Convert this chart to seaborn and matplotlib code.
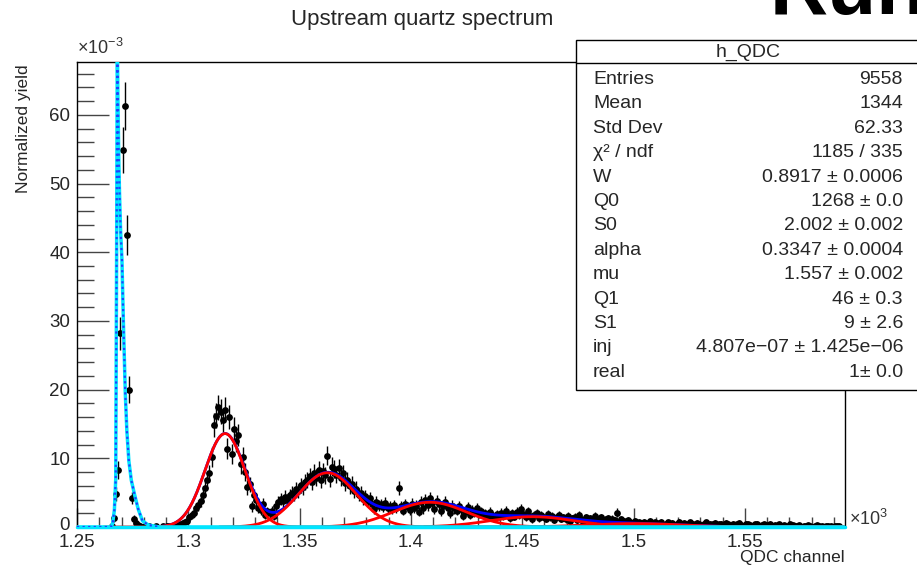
import numpy as np
import pandas as pd
import matplotlib
matplotlib.use("Agg")
import matplotlib.pyplot as plt
import matplotlib.transforms as mtransforms
import seaborn as sns
from matplotlib.patches import Rectangle
from matplotlib.ticker import MultipleLocator, FuncFormatter

# ---- histogram contents (normalized yield, x1e-3), one value per QDC channel ----
ped_start = 1262
ped_yield = [0, 0, 0, 0.2, 1.3, 4.8, 8.3, 28.2, 54.9, 61.3, 42.5, 20.0, 4.2, 1.2,
             0.6, 0.3, 0.2, 0, 0.1, 0, 0.1, 0, 0, 0.1, 0, 0, 0.1, 0]

pe1_start = 1290
pe1_yield = [0.1, 0.1, 0.2, 0.2, 0.3, 0.4, 0.5, 0.6, 0.8, 0.9, 1.4, 1.8, 2.1, 2.8,
             3.2, 3.8, 4.6, 5.7, 6.9, 7.8, 10.2, 14.9, 16.2, 17.4, 16.8, 15.6, 17.1,
             11.4, 16.0, 10.6, 14.3, 12.5, 13.4, 9.1, 10.2, 8.0, 5.8, 6.2, 3.0, 4.6,
             3.9, 2.8, 2.5, 3.4, 1.8, 2.3]

pe2_start = 1336
pe2_yield = [2.0, 2.4, 1.6, 3.0, 3.6, 4.1, 3.8, 4.4, 3.9, 4.6, 5.0, 4.7, 5.5, 5.2,
             6.1, 5.8, 6.6, 6.9, 7.4, 6.5, 7.9, 7.2, 8.3, 6.8, 8.1, 7.5, 10.4, 7.0,
             8.8, 8.4, 7.6, 8.6, 7.1, 7.8, 6.4, 6.9, 5.9, 6.3, 5.2, 5.6, 4.7, 5.0,
             4.1, 4.5, 3.8, 4.2, 3.4, 2.6, 3.7, 3.1, 3.3, 2.9, 3.5, 2.7, 3.0, 2.6,
             3.2, 2.8]

pe3_start = 1394
pe3_yield = [5.7, 3.0, 2.4, 3.3, 2.9, 2.5, 3.4, 2.8, 3.1, 2.2, 3.6, 2.7, 3.9, 3.2,
             4.2, 3.5, 2.6, 3.8, 3.3, 2.3, 3.0, 3.6, 2.8, 2.0, 3.1, 2.7, 2.4, 3.0,
             2.6, 1.6, 2.2, 2.9, 1.8, 2.5, 2.1, 2.7, 1.9, 2.3, 1.7, 2.0, 1.5, 2.2,
             1.8, 1.3, 1.9, 1.6]

tail_start = 1440
tail_yield = [2.1, 1.6, 2.4, 1.8, 1.3, 2.0, 1.5, 2.2, 1.7, 2.6, 1.9, 1.4, 2.3, 1.6,
              1.1, 1.8, 2.0, 1.3, 1.7, 1.5, 1.2, 1.9, 1.4, 1.6, 1.0, 1.5, 1.8, 1.2,
              1.4, 1.1, 1.6, 0.9, 1.3, 1.5, 1.0, 1.7, 1.2, 0.8, 1.4, 1.1, 1.3, 0.9,
              1.6, 1.2, 1.0, 1.4, 0.8, 1.1, 1.3, 0.9, 1.2, 1.0, 2.1, 0.8, 1.1, 0.9,
              0.7, 1.0, 0.8, 0.6,
              0.9, 0.5, 0.7, 0.4, 0.8, 0.6, 0.3, 0.9, 0.5, 0.7, 0.4, 0.6, 0.8, 0.3,
              0.5, 0.7, 0.4, 0.6, 0.2, 0.5, 0.8, 0.4, 0.6, 0.3, 0.5, 0.7, 0.4, 0.3,
              0.6, 0.5, 0.2, 0.4, 0.7, 0.3, 0.5, 0.4, 0.6, 0.2, 0.4, 0.5, 0.3, 0.6,
              0.4, 0.2, 0.5, 0.3, 0.4, 0.6, 0.3, 0.2, 0.5, 0.4, 0.3, 0.1, 0.4, 0.5,
              0.2, 0.3, 0.4, 0.1, 0.3, 0.5, 0.2, 0.3, 0.1, 0.4, 0.2, 0.3, 0, 0.2,
              0.4, 0.3, 0.1, 0.2, 0.3, 0, 0.2, 0.1, 0.3, 0.2, 0, 0.1, 0.3, 0.2,
              0.1, 0, 0.2, 0.1, 0.2, 0, 0.1, 0.2, 0.1, 0]

eff_counts = 5000  # sets the size of the statistical error bars

# ---- fit curves ----
# pedestal (cyan) as knots
ped_fit_x = [1250, 1265.2, 1266.0, 1266.8, 1267.4, 1267.8, 1268.1, 1268.4, 1268.8,
             1269.1, 1269.6, 1270.2, 1270.9, 1271.7, 1272.4, 1273.3, 1274.4,
             1275.8, 1277.5, 1279.4, 1282, 1287, 1595]
ped_fit_y = [0, 0, 0.5, 2.5, 7, 40, 72, 62, 53, 48.6, 43, 38.8, 29, 19.4, 14,
             9.6, 6.8, 4.8, 2.6, 0.9, 0.3, 0, 0]

# photoelectron gaussians (red): centre, height, width, start of drawn range
pe_centre = [1316.5, 1362.5, 1408.5, 1454.5, 1500.5]
pe_height = [13.6, 7.9, 3.6, 1.5, 0.5]
pe_width = [9.0, 13.0, 16.5, 19.0, 21.0]
pe_from = [1262, 1314, 1360, 1406, 1452]

stat_names = ["Entries", "Mean", "Std Dev", "\u03c7\u00b2 / ndf", "W", "Q0", "S0",
              "alpha", "mu", "Q1", "S1", "inj", "real"]
stat_values = ["9558", "1344", "62.33", "1185 / 335", "0.8917 \u00b1 0.0006",
               "1268 \u00b1 0.0", "2.002 \u00b1 0.002", "0.3347 \u00b1 0.0004",
               "1.557 \u00b1 0.002", "46 \u00b1 0.3", "9 \u00b1 2.6",
               "4.807e\u221207 \u00b1 1.425e\u221206", "1\u00b1 0.0"]

# ---- build table ----
parts = []
for start, vals in [(ped_start, ped_yield), (pe1_start, pe1_yield), (pe2_start, pe2_yield),
                    (pe3_start, pe3_yield), (tail_start, tail_yield)]:
    parts.append(pd.DataFrame({"channel": start + 0.5 + np.arange(len(vals)),
                               "yield": vals}))
hist = pd.concat(parts, ignore_index=True)
hist = hist[hist["yield"] > 0].copy()
hist["err"] = np.sqrt(hist["yield"] * 1e-3 / eff_counts) * 1e3

sns.set_theme(style="white")
plt.rcParams["font.family"] = ["Liberation Sans", "DejaVu Sans"]
plt.rcParams["mathtext.fontset"] = "custom"
plt.rcParams["mathtext.rm"] = "Liberation Sans"
plt.rcParams["mathtext.it"] = "Liberation Sans:italic"

W, H = 917, 567
fig = plt.figure(figsize=(W / 100, H / 100), dpi=100)
ax = fig.add_axes([77 / W, 1 - 527 / H, (845 - 77) / W, (527 - 62) / H])

# data points
ax.errorbar(hist["channel"], hist["yield"], yerr=hist["err"], fmt="none",
            ecolor="black", elinewidth=1, capsize=0, zorder=2)
sns.scatterplot(data=hist, x="channel", y="yield", color="black", s=24,
                edgecolor="black", linewidth=0, ax=ax, zorder=3, legend=False)

# total fit (blue) under the components
grid = np.linspace(1285, 1595, 1200)
total = np.zeros_like(grid)
for c, h, s in zip(pe_centre, pe_height, pe_width):
    total += h * np.exp(-0.5 * ((grid - c) / s) ** 2)
sns.lineplot(x=grid, y=total, color="#0000ff", lw=2, ax=ax, zorder=4)

# components (red)
for c, h, s, lo in zip(pe_centre, pe_height, pe_width, pe_from):
    g = np.linspace(lo, 1595, 900)
    sns.lineplot(x=g, y=h * np.exp(-0.5 * ((g - c) / s) ** 2), color="red", lw=2,
                 ax=ax, zorder=5)

# pedestal (cyan) with dotted total on top
ax.plot(ped_fit_x, ped_fit_y, color="#00e5ff", lw=2.5, zorder=6, clip_on=True)
ax.plot([1250, 1595], [0, 0], color="#00e5ff", lw=2.5, zorder=6, clip_on=False)
ax.plot(ped_fit_x[:22], ped_fit_y[:22], color="#2040ff", lw=1.6, ls=(0, (1, 1.5)),
        zorder=7)

ax.set_xlim(1250, 1595)
ax.set_ylim(0, 67.7)

# ROOT style axes
for side in ["left", "bottom", "right", "top"]:
    ax.spines[side].set_color("black")
    ax.spines[side].set_linewidth(1)
ax.xaxis.set_major_locator(MultipleLocator(50))
ax.xaxis.set_minor_locator(MultipleLocator(10))
ax.yaxis.set_major_locator(MultipleLocator(10))
ax.yaxis.set_minor_locator(MultipleLocator(2))
ax.xaxis.set_major_formatter(FuncFormatter(lambda v, p: f"{v / 1000:g}"))
ax.tick_params(axis="x", which="major", direction="in", length=14, width=1,
               color="#444444", labelsize=13.5, pad=5, top=False, bottom=True)
ax.tick_params(axis="x", which="minor", direction="in", length=7, width=1,
               color="#444444", top=False, bottom=True)
ax.tick_params(axis="y", which="major", direction="in", length=23, width=1,
               color="#444444", labelsize=13.5, pad=5, right=False, left=True)
ax.tick_params(axis="y", which="minor", direction="in", length=12, width=1,
               color="#444444", right=False, left=True)

# lift the "0" label a little, as in the original pad
fig.canvas.draw()
for lab in ax.get_yticklabels():
    if lab.get_text() == "0":
        lab.set_transform(lab.get_transform() +
                          mtransforms.ScaledTranslation(0, 4 / 100, fig.dpi_scale_trans))

ax.set_xlabel("QDC channel", fontsize=12.5, loc="right")
ax.xaxis.set_label_coords(1.0, -0.05)
ax.set_ylabel("Normalized yield", fontsize=12.5, loc="top")
ax.yaxis.set_label_coords(-0.06, 0.995)

fig.text(77 / W, 1 - 54 / H, r"$\times$10$^{-3}$", fontsize=13, va="baseline",
         ha="left", color="#333333")
fig.text(849 / W, 1 - 519 / H, r"$\times$10$^{3}$", fontsize=13, va="center",
         ha="left", color="#333333")

fig.text(422 / W, 1 - 20 / H, "Upstream quartz spectrum", fontsize=16,
         ha="center", va="center")
# large label above the pad, mostly outside the picture
fig.text(770 / W, 1 - 14 / H, "Run", fontsize=58, fontweight="bold",
         ha="left", va="baseline", color="black")

# stats box
bx0, bx1, by0, by1 = 576, 930, 40, 390
fig.patches.append(Rectangle((bx0 / W, 1 - by1 / H), (bx1 - bx0) / W, (by1 - by0) / H,
                             transform=fig.transFigure, facecolor="white",
                             edgecolor="black", lw=1, zorder=10))
fig.add_artist(plt.Line2D([bx0 / W, 1], [1 - 63 / H, 1 - 63 / H],
                          transform=fig.transFigure, color="black", lw=1, zorder=11))
fig.text(748 / W, 1 - 52 / H, "h_QDC", fontsize=14, ha="center", va="center",
         zorder=12)
for i, (nm, val) in enumerate(zip(stat_names, stat_values)):
    yc = 1 - (79.5 + i * 24.4) / H
    fig.text(593 / W, yc, nm, fontsize=14, ha="left", va="center", zorder=12)
    fig.text(903 / W, yc, val, fontsize=14, ha="right", va="center", zorder=12)

fig.savefig("out.png", dpi=100)
